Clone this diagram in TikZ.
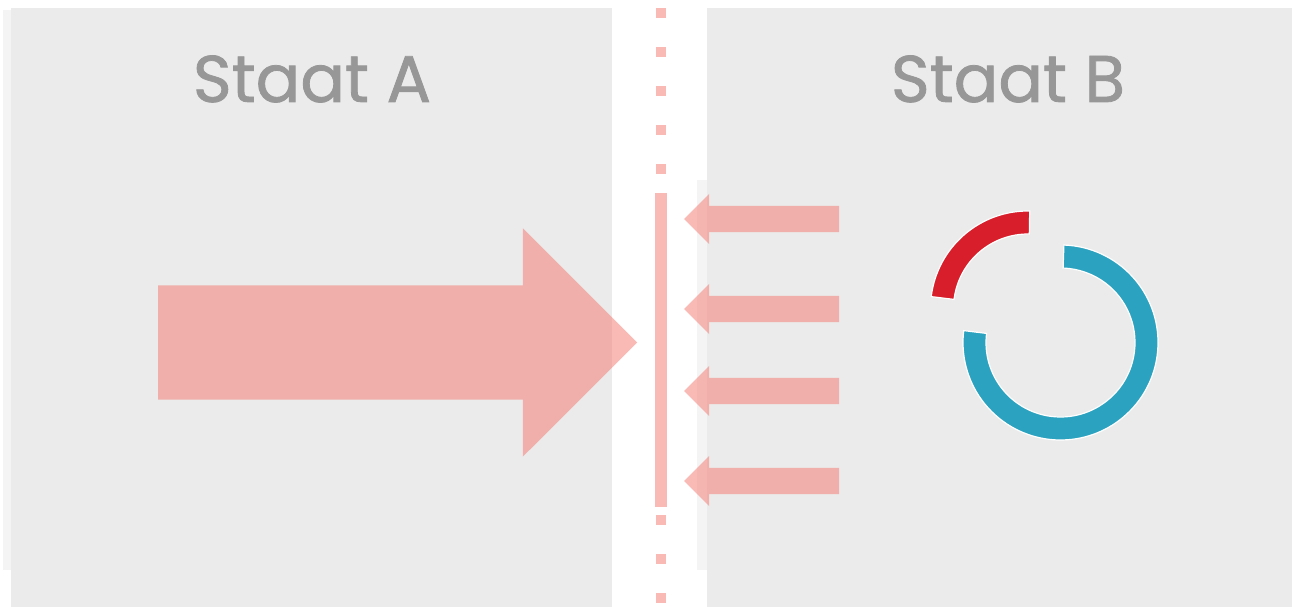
\documentclass[tikz,border=0pt]{standalone}
\usepackage{fontspec}
\setmainfont{Poppins}
\newfontfamily\titlefont{Poppins}[FakeBold=1.2]
\usepackage{tikz}
\usetikzlibrary{shapes.arrows, calc}
\definecolor{panelbg}{HTML}{EBEBEB}
\definecolor{stripbg}{HTML}{F4F4F4}
\definecolor{flowred}{HTML}{F5756B}
\definecolor{titlegray}{HTML}{979797}
\definecolor{ringblue}{HTML}{2BA3C0}
\definecolor{ringred}{HTML}{D81E2A}
\tikzset{
  panel/.style={fill=panelbg, draw=none},
  strip/.style={fill=stripbg, draw=none},
  title/.style={font=\titlefont\fontsize{66}{66}\selectfont, text=titlegray,
    anchor=base, inner sep=0pt},
  flow/.style={single arrow, fill=flowred, fill opacity=0.5, draw=none,
    inner xsep=0pt, outer sep=0pt, anchor=tip},
  bigflow/.style={flow, inner ysep=57pt, single arrow head extend=57pt,
    minimum height=479pt},
  smallflow/.style={flow, shape border rotate=180, inner ysep=13pt,
    single arrow head extend=12pt, minimum height=155pt},
  borderdot/.style={rectangle, fill=flowred, fill opacity=0.5, inner sep=0pt,
    minimum size=10pt},
  borderbar/.style={rectangle, fill=flowred, fill opacity=0.5, inner sep=0pt,
    minimum width=12pt, minimum height=314pt},
  segment/.style={draw=white, line width=1.2pt},
}

\begin{document}
\begin{tikzpicture}[x=1pt, y=1pt]
  \useasboundingbox[fill=white] (0,0) rectangle (1292,607);

  % the two states
  \fill[strip] (3,37) rectangle (11,597);
  \fill[panel] (11,0) rectangle (612,599);
  \fill[panel] (707,0) rectangle (1292,599);
  \fill[strip] (697,37) rectangle (707,427);

  \node[title] (staatA) at (312,505) {Staat A};
  \node[title] (staatB) at (1008,505) {Staat B};

  % border
  \foreach \y [count=\i] in {594,555,516,477,438,87,48,9}
    \node[borderdot] (dot\i) at (660.5,\y) {};
  \node[borderbar] (bar) at (661,257) {};

  % pressure from A, resistance from B
  \node[bigflow] (push) at (637,264.5) {};
  \node[smallflow] (back1) at (684,388) {};
  \node[smallflow] (back2) at (684,298) {};
  \node[smallflow] (back3) at (684,216) {};
  \node[smallflow] (back4) at (684,126) {};

  % ring with the split-off part
  \coordinate (ring) at (1060.5,264.5);
  \coordinate (ringcut) at (1028,298.5);
  \fill[ringblue, segment] ($(ring)+(88:97.5)$) arc[start angle=88, end angle=-187, radius=97.5]
    -- ($(ring)+(-187:74.5)$) arc[start angle=-187, end angle=88, radius=74.5] -- cycle;
  \fill[ringred, segment] ($(ringcut)+(89:97.5)$) arc[start angle=89, end angle=173, radius=97.5]
    -- ($(ringcut)+(173:74.5)$) arc[start angle=173, end angle=89, radius=74.5] -- cycle;
\end{tikzpicture}
\end{document}
